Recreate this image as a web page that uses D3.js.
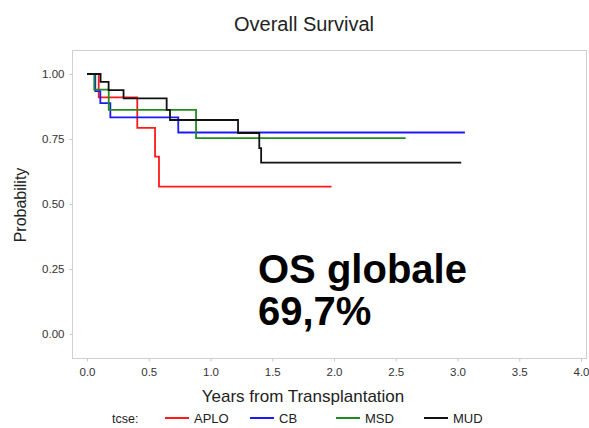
<!DOCTYPE html>
<html><head><meta charset="utf-8">
<script src="https://cdn.jsdelivr.net/npm/d3@7"></script>
<style>
html,body{margin:0;padding:0;background:#fff;}
svg{display:block;font-family:"Liberation Sans",Arial,sans-serif;}
</style></head>
<body>
<svg id="chart" width="589" height="428"></svg>
<script>
// ---- data ----
const seriesNames = ["APLO", "CB", "MSD", "MUD"];
const seriesColors = ["#ff1a1a", "#1a1aff", "#1f8c1f", "#111111"];
const aploTimes = [0, 0.095, 0.407, 0.551, 0.583, 1.98];
const aploSurv  = [1, 0.910, 0.793, 0.682, 0.567, 0.567];
const cbTimes   = [0, 0.067, 0.108, 0.189, 0.739, 3.06];
const cbSurv    = [1, 0.934, 0.888, 0.833, 0.775, 0.775];
const msdTimes  = [0, 0.059, 0.176, 0.883, 2.58];
const msdSurv   = [1, 0.940, 0.862, 0.753, 0.753];
const mudTimes  = [0, 0.11, 0.175, 0.296, 0.645, 0.672, 1.223, 1.395, 1.41, 3.03];
const mudSurv   = [1, 0.970, 0.938, 0.906, 0.862, 0.823, 0.773, 0.715, 0.659, 0.659];
const xTicks = [0, 0.5, 1, 1.5, 2, 2.5, 3, 3.5, 4];
const yTicks = [0, 0.25, 0.5, 0.75, 1];
const titleText = "Overall Survival";
const xLabel = "Years from Transplantation";
const yLabel = "Probability";
const legendTitle = "tcse:";
const annotLines = ["OS globale", "69,7%"];

const series = [
  {name: seriesNames[0], color: seriesColors[0], t: aploTimes, s: aploSurv},
  {name: seriesNames[1], color: seriesColors[1], t: cbTimes, s: cbSurv},
  {name: seriesNames[2], color: seriesColors[2], t: msdTimes, s: msdSurv},
  {name: seriesNames[3], color: seriesColors[3], t: mudTimes, s: mudSurv}
];

const svg = d3.select("#chart");
const frame = {left: 72, top: 50, right: 586, bottom: 358};
const x = d3.scaleLinear().domain([0, 4]).range([87, 581]);
const y = d3.scaleLinear().domain([0, 1]).range([334, 74]);

// frame
svg.append("rect")
  .attr("x", frame.left + 0.5).attr("y", frame.top + 0.5)
  .attr("width", frame.right - frame.left).attr("height", frame.bottom - frame.top)
  .attr("fill", "none").attr("stroke", "#d0d0d0").attr("stroke-width", 1);

// axes
const xAxis = d3.axisBottom(x).tickValues(xTicks).tickFormat(d3.format(".1f"))
  .tickSizeInner(3).tickSizeOuter(0).tickPadding(6);
const gx = svg.append("g").attr("transform", `translate(0,${frame.bottom + 0.5})`).call(xAxis);
gx.select(".domain").remove();
gx.selectAll("line").attr("stroke", "#c8c8c8");
gx.selectAll("text").attr("fill", "#333").attr("font-size", 11.5)
  .attr("font-family", "Liberation Sans, Arial, sans-serif");

const yAxis = d3.axisLeft(y).tickValues(yTicks).tickFormat(d3.format(".2f"))
  .tickSizeInner(3).tickSizeOuter(0).tickPadding(5);
const gy = svg.append("g").attr("transform", `translate(${frame.left + 0.5},0)`).call(yAxis);
gy.select(".domain").remove();
gy.selectAll("line").attr("stroke", "#c8c8c8");
gy.selectAll("text").attr("fill", "#333").attr("font-size", 11.5)
  .attr("font-family", "Liberation Sans, Arial, sans-serif");

// curves
const line = d3.line().curve(d3.curveStepAfter).x(d => x(d[0])).y(d => y(d[1]));
series.forEach(sr => {
  const pts = sr.t.map((t, i) => [t, sr.s[i]]);
  svg.append("path").attr("d", line(pts))
    .attr("fill", "none").attr("stroke", sr.color).attr("stroke-width", 1.8);
});

// title
svg.append("text").attr("x", 304).attr("y", 31).attr("text-anchor", "middle")
  .attr("font-size", 20).attr("fill", "#222").text(titleText);
// axis labels
svg.append("text").attr("x", 303).attr("y", 402).attr("text-anchor", "middle")
  .attr("font-size", 17).attr("fill", "#222").text(xLabel);
svg.append("text").attr("transform", "translate(26,205) rotate(-90)")
  .attr("text-anchor", "middle").attr("font-size", 16).attr("fill", "#222").text(yLabel);

// annotation
annotLines.forEach((t, i) => {
  svg.append("text").attr("x", 258).attr("y", 283 + i * 42)
    .attr("font-size", 40).attr("font-weight", "bold").attr("fill", "#000").text(t);
});

// legend
const ly = 418;
svg.append("text").attr("x", 112).attr("y", ly + 5).attr("font-size", 12.5)
  .attr("fill", "#222").text(legendTitle);
const legX = [165, 250, 336, 424];
series.forEach((sr, i) => {
  svg.append("line").attr("x1", legX[i]).attr("x2", legX[i] + 24)
    .attr("y1", ly).attr("y2", ly).attr("stroke", sr.color).attr("stroke-width", 2);
  svg.append("text").attr("x", legX[i] + 29).attr("y", ly + 5)
    .attr("font-size", 13).attr("fill", "#222").text(sr.name);
});
</script>
</body></html>
